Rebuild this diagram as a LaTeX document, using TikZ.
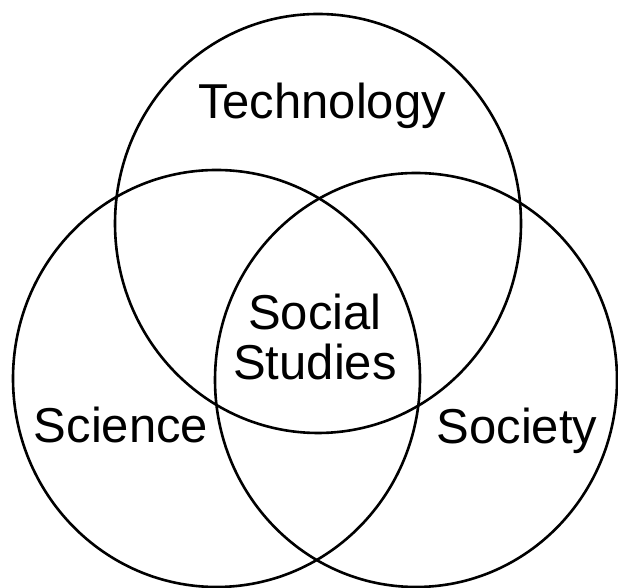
\documentclass[tikz,border=0pt]{standalone}
\usepackage{fontspec}
\setmainfont{Liberation Sans}
\tikzset{ring/.style={line width=2.6pt},
  lab/.style={anchor=base,inner sep=0pt}}
\begin{document}
\begin{tikzpicture}[x=1pt,y=1pt,font=\fontsize{49}{56}\selectfont]
            \useasboundingbox (0,0) rectangle (618,588);
            \draw[ring] (318,364.5) ellipse[x radius=203,y radius=209.5];
            \draw[ring] (216.5,209.5) ellipse[x radius=203.5,y radius=208.5];
            \draw[ring] (416,208) ellipse[x radius=201,y radius=207];
            \node[lab] (tech) at (322,469) {Technology};
            \node[lab] (social) at (315,258) {Social};
            \node[lab] (studies) at (315,208) {Studies};
            \node[lab] (sci) at (121,145) {Science};
            \node[lab] (soc) at (517,144) {Society};
        \end{tikzpicture}
\end{document}
